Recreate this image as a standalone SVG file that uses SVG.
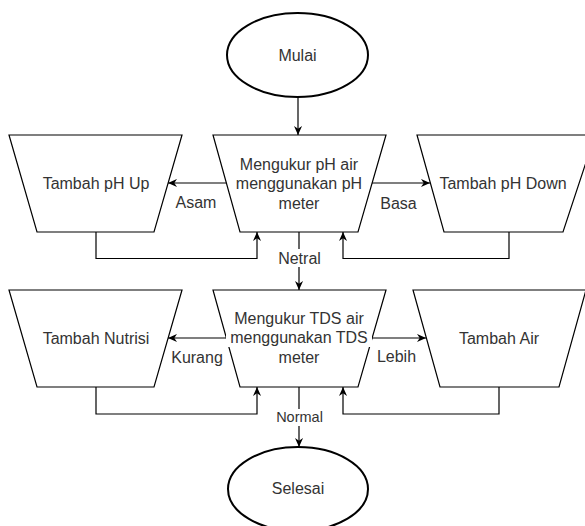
<svg xmlns="http://www.w3.org/2000/svg" width="585" height="526" viewBox="0 0 585 526">
<style>
  .shape { fill: #ffffff; stroke: #000000; stroke-width: 1.2; }
  .term { fill: #ffffff; stroke: #000000; stroke-width: 2; }
  .lbl { font-family: "Liberation Sans", Arial, sans-serif; font-size: 16px; fill: #333333; text-anchor: middle; dominant-baseline: central; }
  .edge { fill: none; stroke: #000000; stroke-width: 1.2; }
  .arrow { marker-end: url(#arr); }
</style>
<defs>
  <marker id="arr" viewBox="0 0 10 10" refX="10" refY="5" markerWidth="9" markerHeight="9" orient="auto" markerUnits="userSpaceOnUse">
    <path d="M0,0.5 L10,5 L0,9.5 L3,5 z" fill="#000000" stroke="none"/>
  </marker>
</defs>
<rect width="585" height="526" fill="#ffffff"/>

<g id="connectors">
  <path class="edge arrow" d="M298,97 L298,135"/>
  <path class="edge arrow" d="M226,183 L168,183"/>
  <path class="edge arrow" d="M372,183 L430,183"/>
  <path class="edge arrow" d="M96,232 L96,258.5 L257,258.5 L257,232"/>
  <path class="edge arrow" d="M509,232 L509,258.5 L343,258.5 L343,232"/>
  <path class="edge arrow" d="M299,232 L299,290"/>
  <path class="edge arrow" d="M226,338 L168,338"/>
  <path class="edge arrow" d="M372,338 L426,338"/>
  <path class="edge arrow" d="M96,387 L96,414 L257,414 L257,387"/>
  <path class="edge arrow" d="M499,387 L499,414 L343,414 L343,387"/>
  <path class="edge arrow" d="M299,387 L299,447"/>
  <text class="lbl" x="196" y="202">Asam</text>
  <text class="lbl" x="398.5" y="203">Basa</text>
  <rect x="276" y="249" width="46" height="18" fill="#ffffff"/>
  <text class="lbl" x="299.5" y="258">Netral</text>
  <text class="lbl" x="197" y="357">Kurang</text>
  <text class="lbl" x="396.5" y="356">Lebih</text>
  <rect x="275" y="409" width="49" height="17" fill="#ffffff"/>
  <text class="lbl" x="299.5" y="417" style="font-size:14.5px">Normal</text>
</g>

<g id="mulai">
  <ellipse class="term" cx="297.5" cy="55" rx="70.5" ry="42"/>
  <text class="lbl" x="297.5" y="55">Mulai</text>
</g>

<g id="ukur-ph">
  <polygon class="shape" points="213,135 386,135 358,232 240,232"/>
  <text class="lbl" x="299" y="164">Mengukur pH air</text>
  <text class="lbl" x="299" y="183">menggunakan pH</text>
  <text class="lbl" x="299" y="203">meter</text>
</g>

<g id="ph-up">
  <polygon class="shape" points="9,135 182,135 154,232 37,232"/>
  <text class="lbl" x="96" y="183">Tambah pH Up</text>
</g>

<g id="ph-down">
  <polygon class="shape" points="417,135 595,135 563,232 444,232"/>
  <text class="lbl" x="503" y="183">Tambah pH Down</text>
</g>

<g id="ukur-tds">
  <polygon class="shape" points="213,290 386,290 358,387 240,387"/>
  <rect x="230" y="309" width="138" height="19" fill="#ffffff"/>
  <rect x="226" y="328" width="146" height="19" fill="#ffffff"/>
  <rect x="276" y="347" width="47" height="19" fill="#ffffff"/>
  <text class="lbl" x="299" y="318">Mengukur TDS air</text>
  <text class="lbl" x="299" y="337">menggunakan TDS</text>
  <text class="lbl" x="299" y="357">meter</text>
</g>

<g id="nutrisi">
  <polygon class="shape" points="9,290 182,290 154,387 37,387"/>
  <text class="lbl" x="96" y="338">Tambah Nutrisi</text>
</g>

<g id="air">
  <polygon class="shape" points="413,290 586,290 559,387 440,387"/>
  <text class="lbl" x="499" y="338">Tambah Air</text>
</g>

<g id="selesai">
  <ellipse class="term" cx="298" cy="489" rx="70" ry="42"/>
  <text class="lbl" x="298" y="488">Selesai</text>
</g>
</svg>
